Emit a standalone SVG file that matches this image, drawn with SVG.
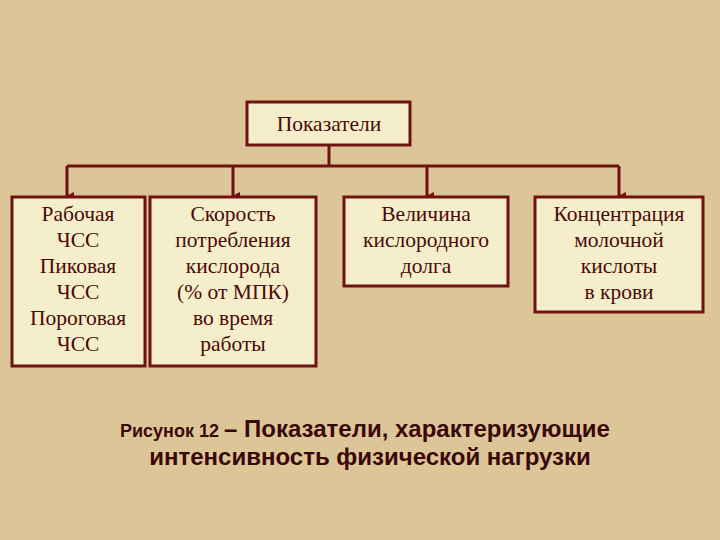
<svg xmlns="http://www.w3.org/2000/svg" width="720" height="540" viewBox="0 0 720 540">
<style>
.b{fill:#f5eecb;stroke:#6e1212;stroke-width:3}
.t{font-family:"Liberation Serif",serif;font-size:21.5px;fill:#4a0a0a;text-anchor:middle}
.c{stroke:#6e1212;stroke-width:3;fill:none}
.cap{font-family:"Liberation Sans",sans-serif;font-weight:bold;fill:#3a0808}
</style>
<defs><marker id="a" markerWidth="8" markerHeight="8" refX="4" refY="7" orient="auto" markerUnits="userSpaceOnUse"><path d="M0,0L8,0L4,8z" fill="#6e1212"/></marker></defs>
<rect width="720" height="540" fill="#dcc697"/>
<g id="connectors">
<path class="c" d="M329,145V166M67,166H619"/>
<path class="c" d="M67,166V196" marker-end="url(#a)"/>
<path class="c" d="M233,166V196" marker-end="url(#a)"/>
<path class="c" d="M427,166V196" marker-end="url(#a)"/>
<path class="c" d="M619,166V196" marker-end="url(#a)"/>
</g>
<g id="top"><rect class="b" x="247" y="102" width="163" height="43"/><text class="t" x="329" y="131" font-size="23">Показатели</text></g>
<g id="n1"><rect class="b" x="12" y="197" width="133" height="169"/><text class="t" x="78" y="221">Рабочая<tspan x="78" dy="26">ЧСС</tspan><tspan x="78" dy="26">Пиковая</tspan><tspan x="78" dy="26">ЧСС</tspan><tspan x="78" dy="26">Пороговая</tspan><tspan x="78" dy="26">ЧСС</tspan></text></g>
<g id="n2"><rect class="b" x="150" y="197" width="166" height="169"/><text class="t" x="233" y="221">Скорость<tspan x="233" dy="26">потребления</tspan><tspan x="233" dy="26">кислорода</tspan><tspan x="233" dy="26">(% от МПК)</tspan><tspan x="233" dy="26">во время</tspan><tspan x="233" dy="26">работы</tspan></text></g>
<g id="n3"><rect class="b" x="344" y="197" width="164" height="89"/><text class="t" x="426" y="221">Величина<tspan x="426" dy="26">кислородного</tspan><tspan x="426" dy="26">долга</tspan></text></g>
<g id="n4"><rect class="b" x="535" y="197" width="168" height="115"/><text class="t" x="619" y="221">Концентрация<tspan x="619" dy="26">молочной</tspan><tspan x="619" dy="26">кислоты</tspan><tspan x="619" dy="26">в крови</tspan></text></g>
<text class="cap" x="120" y="437" font-size="18">Рисунок 12 <tspan font-size="24"> – Показатели, характеризующие</tspan></text>
<text class="cap" x="370" y="465" font-size="24" text-anchor="middle">интенсивность физической нагрузки</text>
</svg>
